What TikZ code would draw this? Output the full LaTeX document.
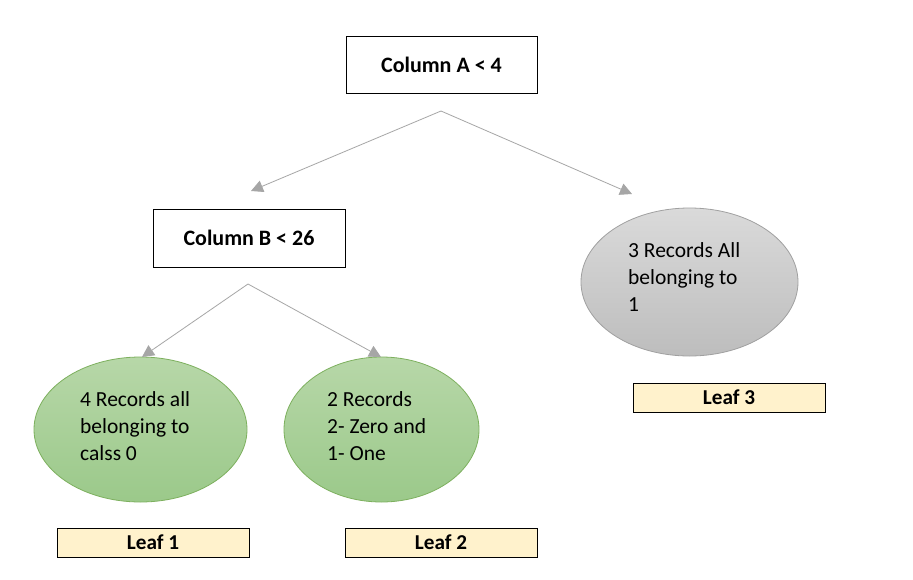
\documentclass[tikz,border=0pt]{standalone}
\usepackage{fontspec}
\setmainfont{Carlito}
\usetikzlibrary{arrows.meta,shapes.geometric}
\definecolor{conn}{HTML}{A6A6A6}
\definecolor{leaffill}{HTML}{FFF2CC}
\definecolor{greentop}{HTML}{B7D7A8}
\definecolor{greenbot}{HTML}{9BC98A}
\definecolor{greenline}{HTML}{7DB05E}
\definecolor{graytop}{HTML}{DADADA}
\definecolor{graybot}{HTML}{BDBDBD}
\definecolor{grayline}{HTML}{A0A0A0}
\tikzset{
  decbox/.style={draw=black, line width=0.9pt, fill=white, minimum width=191pt, minimum height=57pt, inner sep=0pt, font=\fontsize{22}{26}\selectfont\bfseries},
  leafbox/.style={draw=black, line width=0.9pt, fill=leaffill, minimum width=192pt, minimum height=29pt, inner sep=0pt, font=\fontsize{21.2}{25}\selectfont\bfseries},
  greenell/.style={ellipse, draw=greenline, line width=0.8pt, top color=greentop, bottom color=greenbot, inner sep=0pt},
  grayell/.style={ellipse, draw=grayline, line width=0.8pt, top color=graytop, bottom color=graybot, inner sep=0pt},
  ltxt/.style={align=left, inner sep=0pt, font=\fontsize{21.5}{27}\selectfont},
  conn/.style={draw=conn, line width=0.8pt, -{Triangle[length=12pt,width=12pt]}},
}
\begin{document}
\begin{tikzpicture}[x=1pt,y=-1pt]
\useasboundingbox (0,0) rectangle (913,579);
\fill[white] (0,0) rectangle (913,579);
% decision boxes
\node[decbox] (A) at (441.5,64.5) {Column A < 4};
\node[decbox, minimum width=192pt, minimum height=58pt] (B) at (249,238) {Column B < 26};
% ellipses
\node[greenell, minimum width=213pt, minimum height=145pt] (E1) at (140.5,429.5) {};
\node[greenell, minimum width=195pt, minimum height=145pt] (E2) at (381.5,429.5) {};
\node[grayell, minimum width=217pt, minimum height=148pt] (E3) at (689.5,282) {};
% ellipse texts
\node[ltxt, anchor=west] (T1) at (80,426) {4 Records all\\belonging to\\calss 0};
\node[ltxt, anchor=west] (T2) at (327,426) {2 Records\\2- Zero and\\1- One};
\node[ltxt, anchor=west] (T3) at (628,277) {3 Records All\\belonging to\\1};
% leaves
\node[leafbox] (L1) at (153,542.5) {Leaf 1};
\node[leafbox] (L2) at (441,542.5) {Leaf 2};
\node[leafbox] (L3) at (729,397.5) {Leaf 3};
% connector coordinates
\coordinate (sA) at (441,111);
\coordinate (tAl) at (251,191);
\coordinate (tAr) at (632,194);
\coordinate (sB) at (248,284);
\coordinate (tBl) at (142,357);
\coordinate (tBr) at (381,357);
\draw[conn] (sA) -- (tAl);
\draw[conn] (sA) -- (tAr);
\draw[conn] (sB) -- (tBl);
\draw[conn] (sB) -- (tBr);
\end{tikzpicture}
\end{document}
